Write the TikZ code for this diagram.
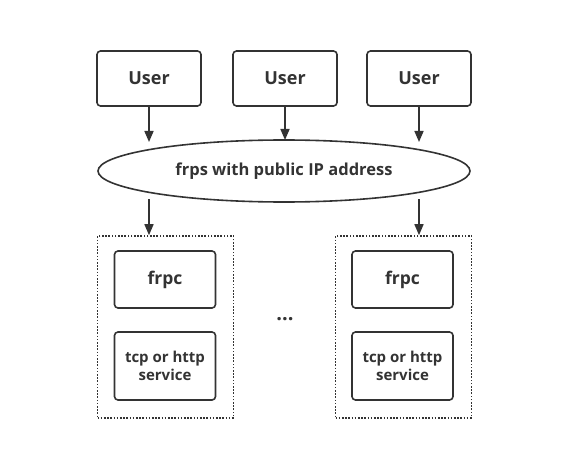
\documentclass[tikz,border=0pt]{standalone}
\usepackage{fontspec}
\setmainfont{Open Sans}
\usetikzlibrary{arrows.meta,shapes.geometric}
\definecolor{ln}{HTML}{333333}
\begin{document}
\begin{tikzpicture}[x=1pt,y=-1pt,
  box/.style={draw=ln,line width=1.6pt,rounded corners=3.5pt,minimum width=104pt,minimum height=55pt,inner sep=0pt,font=\bfseries\fontsize{18}{21}\selectfont,text=ln},
  ibox/.style={draw=ln,line width=1.6pt,rounded corners=3.5pt,minimum width=101pt,inner sep=0pt,align=center,text=ln},
  grp/.style={draw=ln,line width=1.6pt,dash pattern=on 1.6pt off 1.6pt,minimum width=136pt,minimum height=182pt,inner sep=0pt},
  arr/.style={draw=ln,line width=1.6pt,-{Triangle[width=9pt,length=11pt]}}]
\useasboundingbox (0,0) rectangle (580,473);
\node[box] (u1) at (149,78.5) {User};
\node[box] (u2) at (285,78.5) {User};
\node[box] (u3) at (419,78.5) {User};
\node[draw=ln,line width=1.6pt,ellipse,minimum width=372pt,minimum height=62pt,inner sep=0pt,font=\bfseries\fontsize{16.5}{19}\selectfont,text=ln] (fs) at (284,171) {frps with public IP address};
\node[grp] (g1) at (165.5,327) {};
\node[grp] (g2) at (403.5,327) {};
\node[ibox,minimum height=57pt,font=\bfseries\fontsize{17.5}{20}\selectfont] (c1) at (165,279.5) {frpc};
\node[ibox,minimum height=68pt,font=\bfseries\fontsize{15}{17.5}\selectfont] (s1) at (165,366) {tcp or http\\service};
\node[ibox,minimum height=57pt,font=\bfseries\fontsize{17.5}{20}\selectfont] (c2) at (402.5,279.5) {frpc};
\node[ibox,minimum height=68pt,font=\bfseries\fontsize{15}{17.5}\selectfont] (s2) at (402.5,366) {tcp or http\\service};
\node[font=\bfseries\fontsize{20}{22}\selectfont,text=ln] (dots) at (285,319) {...};
\coordinate (e1) at (149,142);
\coordinate (e2) at (285,140);
\coordinate (e3) at (419,142);
\coordinate (f1) at (149,199);
\coordinate (f3) at (419,199);
\draw[arr] (u1.south) -- (e1);
\draw[arr] (u2.south) -- (e2);
\draw[arr] (u3.south) -- (e3);
\draw[arr] (f1) -- (f1 |- g1.north);
\draw[arr] (f3) -- (f3 |- g2.north);
\end{tikzpicture}
\end{document}
